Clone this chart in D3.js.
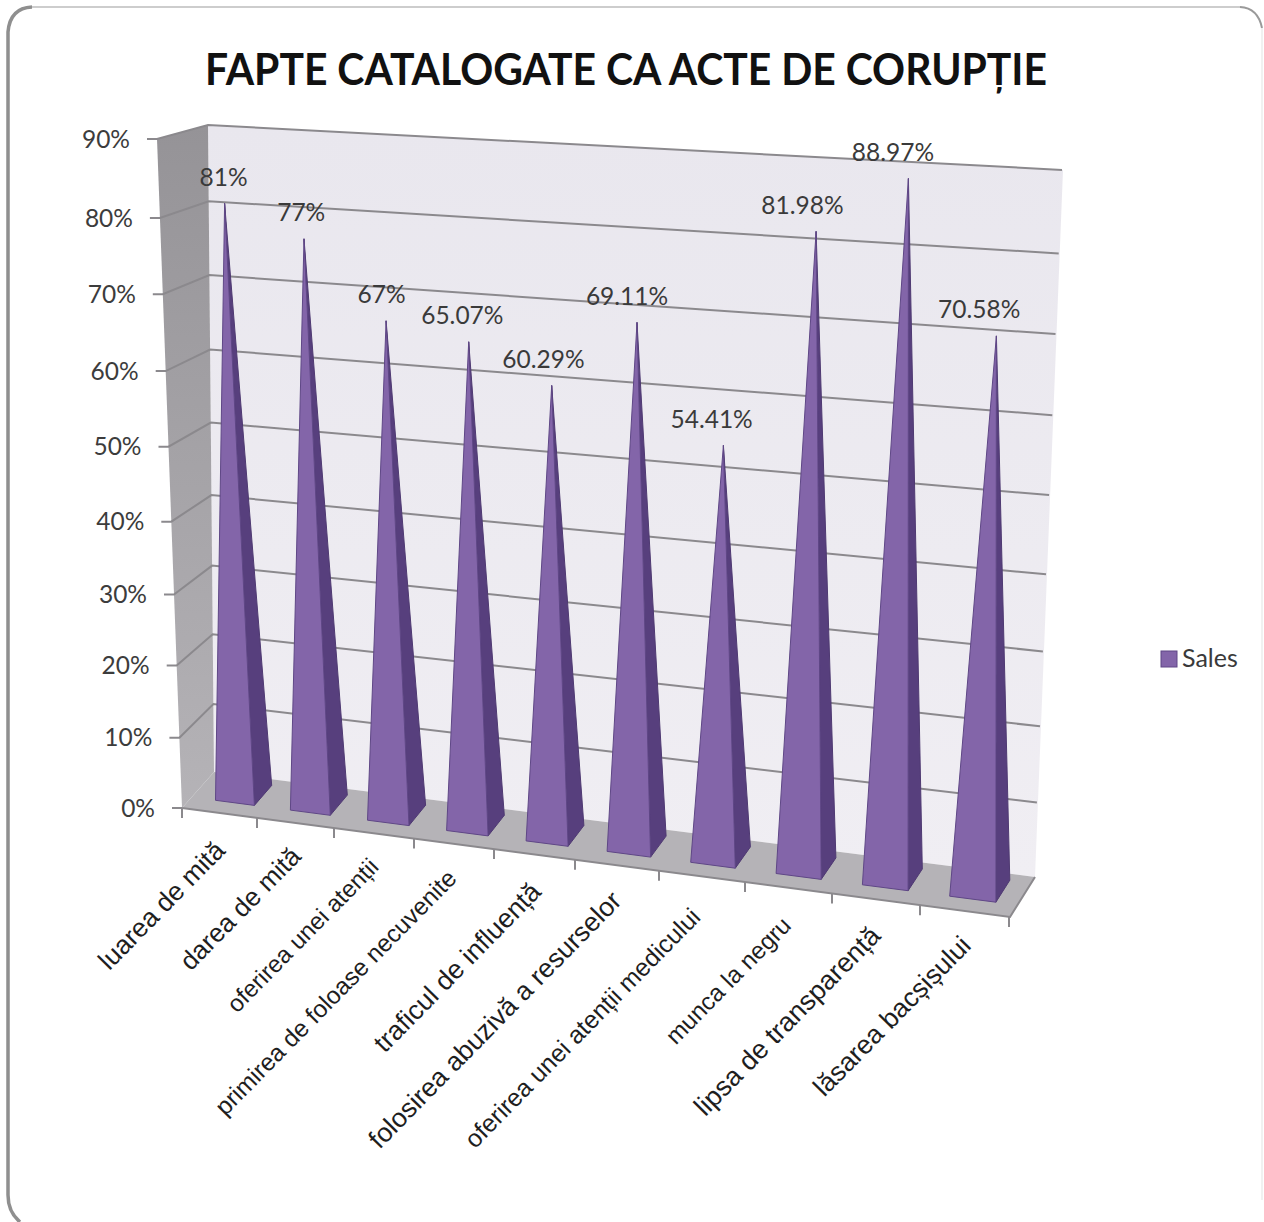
<!DOCTYPE html>
<html><head><meta charset="utf-8">
<script src="https://cdn.jsdelivr.net/npm/d3@7/dist/d3.min.js"></script>
<style>html,body{margin:0;padding:0;background:#fff}svg{display:block}</style></head>
<body><svg id="c" width="1264" height="1222"></svg>
<script>
const categories = ["luarea de mită","darea de mită","oferirea unei atenții","primirea de foloase necuvenite","traficul de influență","folosirea abuzivă a resurselor","oferirea unei atenții medicului","munca la negru","lipsa de transparență","lăsarea bacșișului"];
const values = [81,77,67,65.07,60.29,69.11,54.41,81.98,88.97,70.58];
const valueLabels = ["81%","77%","67%","65.07%","60.29%","69.11%","54.41%","81.98%","88.97%","70.58%"];
const valueTicks = [0,10,20,30,40,50,60,70,80,90];
const seriesName = "Sales";
const titleText = "FAPTE CATALOGATE CA ACTE DE CORUPȚIE";

// layout (separate from the data)
const labelSizes = [26.4,26.1,24,24.4,26.8,26.6,24.9,24.2,27,26.6];
const labelNudgeX = [1,1,0,-2,2,0,-6,-2,0,2];
const labelNudgeY = [2,-2,-2,-1,2,0,5,2,1,-1];
const A={x:182,y:808},B={x:1010,y:917},C={x:1035,y:877},D={x:214,y:772};
const At={x:157,y:139},Bt={x:1025,y:186},Ct={x:1063,y:170},Dt={x:208,y:125};
const lerp=(p,q,t)=>({x:p.x+(q.x-p.x)*t,y:p.y+(q.y-p.y)*t});
const catX=d3.scaleLinear().domain(d3.range(11)).range([182,257,334,414,494,575,659,745,832,920,1009]);
const vFrac=d3.scaleLinear().domain(valueTicks).range([0,.105,.213,.319,.428,.540,.653,.768,.882,1]);
function project(u,w,v){
  const t=(catX(u)-A.x)/(B.x-A.x);
  const base=lerp(lerp(A,B,t),lerp(D,C,t),w);
  const top=lerp(lerp(At,Bt,t),lerp(Dt,Ct,t),w);
  return lerp(base,top,vFrac(v));
}
const svg=d3.select("#c");
const line=pts=>"M"+pts.map(p=>p.x.toFixed(1)+","+p.y.toFixed(1)).join("L");
const poly=pts=>line(pts)+"Z";
const defs=svg.append("defs");
function grad(id,c1,c2){const g=defs.append("linearGradient").attr("id",id).attr("x1",0).attr("y1",0).attr("x2",0).attr("y2",1);
 g.append("stop").attr("offset",0).attr("stop-color",c1);g.append("stop").attr("offset",1).attr("stop-color",c2);}
grad("wallG","#e9e7ee","#f0eef3");
grad("leftG","#959397","#b5b3b7");

// frame
const g0=svg.append("g").attr("fill","none");
g0.append("path").attr("d","M32,7 H1240").attr("stroke","#bdbdbd").attr("stroke-width",1.5);
g0.append("path").attr("d","M1240,7 Q1258,8 1262,28").attr("stroke","#9a9a9a").attr("stroke-width",2);
g0.append("path").attr("d","M1262,28 V1200").attr("stroke","#ececec").attr("stroke-width",1.5);
g0.append("path").attr("d","M32,7 Q10,8 8,32 V1195 Q8,1212 20,1222").attr("stroke","#8f8f8f").attr("stroke-width",3.5);

// walls and floor
const gw=svg.append("g");
gw.append("path").attr("d",poly([D,C,Ct,Dt])).attr("fill","url(#wallG)");
gw.append("path").attr("d",poly([A,D,Dt,At])).attr("fill","url(#leftG)");
gw.append("path").attr("d",poly([A,B,C,D])).attr("fill","#b5b3b7");

// gridlines
const gridStroke="#8b898d";
const gg=svg.append("g").attr("fill","none").attr("stroke",gridStroke).attr("stroke-width",2);
valueTicks.forEach(v=>{
  const a=project(0,0,v),d=project(0,1,v),c=project(10,1,v);
  gg.append("path").attr("d",v===0?line([a,{x:a.x-10,y:a.y}]):line([{x:a.x-10,y:a.y},a,d,c]));
});
gg.append("path").attr("d",line([A,B,C]));
d3.range(11).forEach(i=>{const p=project(i,0,0);gg.append("path").attr("d",line([p,{x:p.x,y:p.y+10}]));});

// value labels on axis
svg.append("g").selectAll("text").data(valueTicks).join("text")
 .attr("x",v=>project(0,0,v).x-27).attr("y",v=>project(0,0,v).y+2.5)
 .attr("text-anchor","end").attr("dominant-baseline","middle")
 .attr("font-family","Lato").attr("font-size",24.5).attr("fill","#3c3c3c")
 .text(v=>v+"%");

// pyramids
const bw0=.29,bw1=.81,dw0=.30,dw1=.85;
const gb=svg.append("g");
values.forEach((v,i)=>{
  const s=.03-.008*i;
  const fl=project(i+bw0+s,dw0,0),fr=project(i+bw1+s,dw0,0),br=project(i+bw1+s,dw1,0);
  const apex=project(i+(bw0+bw1)/2-.06+.004*i,(dw0+.8)/2,v);
  gb.append("path").attr("d",poly([fr,br,apex])).attr("fill","#573f7d").attr("stroke","#4f3a72").attr("stroke-width",1);
  gb.append("path").attr("d",poly([fl,fr,apex])).attr("fill","#8365a9").attr("stroke","#5f4786").attr("stroke-width",1);
  svg.append("text").attr("x",apex.x-1-1.8*i).attr("y",apex.y-24).attr("text-anchor","middle").attr("dominant-baseline","middle")
    .attr("font-family","Lato").attr("font-size",24.5).attr("fill","#3a3a3a").text(valueLabels[i]);
});

// category labels
svg.append("g").selectAll("text").data(categories).join("text")
 .attr("transform",(d,i)=>{const p=project(i+.5,0,0);return `translate(${p.x+6+labelNudgeX[i]},${p.y+37+labelNudgeY[i]}) rotate(-45.5)`;})
 .attr("text-anchor","end").attr("font-family","Liberation Sans")
 .attr("font-size",(d,i)=>labelSizes[i]).attr("fill","#1e1e1e").text(d=>d);

// title
svg.append("text").attr("x",626).attr("y",85).attr("text-anchor","middle")
 .attr("font-family","Lato").attr("font-weight",700).attr("font-size",43).attr("fill","#111")
 .attr("textLength",842).attr("lengthAdjust","spacingAndGlyphs").text(titleText);

// legend
svg.append("rect").attr("x",1161).attr("y",651).attr("width",16).attr("height",16).attr("fill","#8365a9").attr("stroke","#5f4786");
svg.append("text").attr("x",1182).attr("y",667).attr("font-family","Lato").attr("font-size",25).attr("fill","#3a3a3a").text(seriesName);
</script></body></html>
